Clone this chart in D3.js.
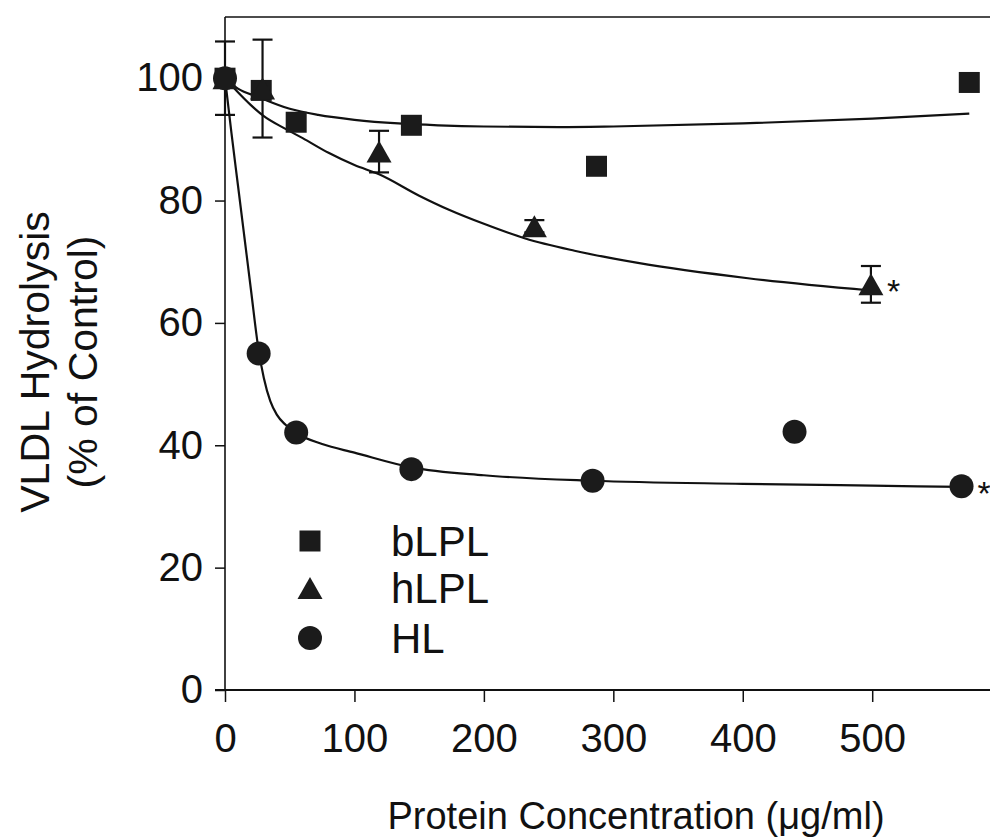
<!DOCTYPE html>
<html>
<head>
<meta charset="utf-8">
<script src="https://cdn.jsdelivr.net/npm/d3@7"></script>
<style>
  html, body { margin: 0; padding: 0; background: #fff; }
  svg { display: block; font-family: "Liberation Sans", Arial, Helvetica, sans-serif; }
</style>
</head>
<body>
<svg id="chart" width="990" height="839"></svg>
<script>
// Measured points (protein concentration in µg/ml, hydrolysis in % of control)
const bLPL_x = [0, 28, 55, 144, 287, 575];
const bLPL_y = [100, 98, 92.8, 92.3, 85.6, 99.3];

const hLPL_x = [0, 29, 119, 239, 499];
const hLPL_y = [100, 98.3, 88, 75.8, 66.3];
const hLPL_err = [6, 8, 3.4, 1, 3];

const HL_x = [0, 26, 55, 144, 284, 440, 569];
const HL_y = [100, 55, 42.1, 36.1, 34.2, 42.2, 33.3];

// Fitted curves, sampled along each line
const bLPL_fit_x = [0, 10, 26, 50, 72, 100, 134, 165, 200, 258, 300, 400, 500, 575];
const bLPL_fit_y = [100, 98.3, 96.9, 95.0, 94.0, 93.2, 92.6, 92.3, 92.1, 92.0, 92.1, 92.6, 93.4, 94.2];

const hLPL_fit_x = [0, 10, 20, 30, 46, 60, 80, 100, 119, 150, 173, 200, 232, 270, 319, 404, 499];
const hLPL_fit_y = [100, 97.7, 95.6, 93.8, 91.8, 90.2, 87.8, 85.8, 84.3, 80.8, 78.5, 76.2, 73.8, 71.8, 69.8, 67.3, 65.3];

const HL_fit_x = [0, 5, 10, 15, 20, 26, 30, 35, 40, 47, 55, 75, 100, 144, 200, 284, 400, 500, 569];
const HL_fit_y = [100, 91, 82.5, 74, 65.5, 55.5, 51, 47.2, 45, 43.3, 42, 40.2, 38.8, 36.4, 35.1, 34.2, 33.7, 33.4, 33.2];

// Axis ticks and labels
const xTicks = [0, 100, 200, 300, 400, 500];
const yTicks = [0, 20, 40, 60, 80, 100];
const legendNames = ["bLPL", "hLPL", "HL"];
const xTitle = "Protein Concentration (\u03bcg/ml)";
const yTitle = ["VLDL Hydrolysis", "(% of Control)"];

const svg = d3.select("#chart");
const ink = "#111";
const markFill = "#1b1b1b";

const x = d3.scaleLinear().domain([0, 591]).range([225, 990]);
const y = d3.scaleLinear().domain([0, 110]).range([690, 17]);

// Frame: left axis, top rule, bottom axis
const axisG = svg.append("g");
axisG.append("line").attr("x1", x(0)).attr("x2", x(0)).attr("y1", y(110)).attr("y2", y(0))
  .attr("stroke", ink).attr("stroke-width", 1.6);
axisG.append("line").attr("x1", x(0)).attr("x2", 990).attr("y1", y(110)).attr("y2", y(110))
  .attr("stroke", ink).attr("stroke-width", 1.6);

const xAxis = d3.axisBottom(x).tickValues(xTicks).tickSize(12).tickPadding(22).tickFormat(d3.format("d"));
const xg = svg.append("g").attr("transform", `translate(0,${y(0)})`).call(xAxis);
xg.select(".domain").remove();
xg.append("line").attr("x1", x(0) - 10).attr("x2", 990).attr("y1", 0).attr("y2", 0)
  .attr("stroke", ink).attr("stroke-width", 1.8);
xg.selectAll(".tick line").attr("stroke", ink).attr("stroke-width", 1.5);
xg.selectAll(".tick text").attr("fill", ink).attr("font-size", 40).attr("font-family", null);

const yAxis = d3.axisLeft(y).tickValues(yTicks).tickSize(10).tickPadding(12).tickFormat(d3.format("d"));
const yg = svg.append("g").attr("transform", `translate(${x(0)},0)`).call(yAxis);
yg.select(".domain").remove();
yg.selectAll(".tick line").attr("stroke", ink).attr("stroke-width", 1.5);
yg.selectAll(".tick text").attr("fill", ink).attr("font-size", 40).attr("font-family", null);

// Axis titles
svg.append("text").attr("x", 636).attr("y", 829).attr("text-anchor", "middle")
  .attr("font-size", 38).attr("fill", ink).text(xTitle);
const yt = svg.append("text").attr("transform", "translate(0,362) rotate(-90)")
  .attr("text-anchor", "middle").attr("font-size", 41).attr("fill", ink);
yt.append("tspan").attr("x", 0).attr("y", 49).text(yTitle[0]);
yt.append("tspan").attr("x", 0).attr("y", 97).text(yTitle[1]);

// Fitted curves
const line = d3.line().x(d => x(d[0])).y(d => y(d[1])).curve(d3.curveMonotoneX);
const fits = [
  d3.zip(bLPL_fit_x, bLPL_fit_y),
  d3.zip(hLPL_fit_x, hLPL_fit_y),
  d3.zip(HL_fit_x, HL_fit_y)
];
svg.append("g").selectAll("path").data(fits).join("path")
  .attr("d", line).attr("fill", "none").attr("stroke", ink).attr("stroke-width", 2.2);

// Error bars on hLPL
const capW = 10;
const eg = svg.append("g").attr("stroke", ink).attr("stroke-width", 2.2);
d3.zip(hLPL_x, hLPL_y, hLPL_err).forEach(([cx, cy, e]) => {
  eg.append("line").attr("x1", x(cx)).attr("x2", x(cx)).attr("y1", y(cy + e)).attr("y2", y(cy - e));
  eg.append("line").attr("x1", x(cx) - capW).attr("x2", x(cx) + capW).attr("y1", y(cy + e)).attr("y2", y(cy + e));
  eg.append("line").attr("x1", x(cx) - capW).attr("x2", x(cx) + capW).attr("y1", y(cy - e)).attr("y2", y(cy - e));
});

// Marker shapes, centred on their bounding box
function squarePath(cx, cy) { const h = 10.5; return `M${cx - h},${cy - h}h${2 * h}v${2 * h}h${-2 * h}Z`; }
function trianglePath(cx, cy) { const w = 12.5, h = 11; return `M${cx},${cy - h}L${cx + w},${cy + h}L${cx - w},${cy + h}Z`; }

const mg = svg.append("g").attr("fill", markFill);
mg.selectAll("path.sq").data(d3.zip(bLPL_x, bLPL_y)).join("path").attr("class", "sq")
  .attr("d", d => squarePath(x(d[0]), y(d[1])));
mg.selectAll("path.tri").data(d3.zip(hLPL_x, hLPL_y)).join("path").attr("class", "tri")
  .attr("d", d => trianglePath(x(d[0]), y(d[1])));
mg.selectAll("circle").data(d3.zip(HL_x, HL_y)).join("circle")
  .attr("cx", d => x(d[0])).attr("cy", d => y(d[1])).attr("r", 12);

// Significance marks beside the last hLPL and HL points
const stars = [[hLPL_x[4], hLPL_y[4]], [HL_x[6], HL_y[6]]];
svg.append("g").selectAll("text").data(stars).join("text")
  .attr("x", d => x(d[0]) + 16).attr("y", d => y(d[1]) + 19)
  .attr("font-size", 34).attr("fill", ink).text("*");

// Legend
const legendY = [541, 588, 638];
const lg = svg.append("g");
lg.append("path").attr("d", squarePath(310, legendY[0])).attr("fill", markFill);
lg.append("path").attr("d", trianglePath(310, legendY[1])).attr("fill", markFill);
lg.append("circle").attr("cx", 310).attr("cy", legendY[2]).attr("r", 12).attr("fill", markFill);
lg.selectAll("text").data(legendNames).join("text")
  .attr("x", 391).attr("y", (d, i) => legendY[i] + 15)
  .attr("font-size", 42).attr("fill", ink).text(d => d);
</script>
</body>
</html>
